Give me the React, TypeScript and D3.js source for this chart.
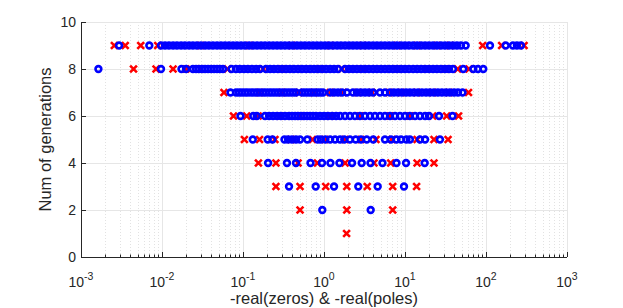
import React, { useEffect, useRef } from "react";
import * as d3 from "d3";

// -real(zeros) / -real(poles) per generation
const zerosG1: number[] = [];
const polesG1 = [1.9];

const zerosG2 = [0.953, 3.77];
const polesG2 = [0.506, 1.91, 7.05];

const zerosG3 = [0.37, 0.79, 1.33, 2.65, 4.6, 9.72];
const polesG3 = [0.255, 0.506, 1.05, 1.91, 3.42, 7.05, 13.9];

const zerosG4 = [0.204, 0.349, 0.451, 0.681, 0.945, 1.2, 1.55, 2.22, 2.92, 3.75, 5.27, 7.85, 10.3, 17.5];
const polesG4 = [0.155, 0.255, 0.478, 0.83, 1.82, 4.14, 6.66, 14.1, 22.8];

const zerosG5 = [
  0.132, 0.202, 0.231, 0.325, 0.36, 0.403, 0.451, 0.506, 0.622, 0.836, 0.918, 1.04,
  1.19, 1.37, 1.58, 1.78, 2.09, 2.46, 2.86, 3.37, 4.06, 5.66, 6.71, 7.85, 8.93,
  10.4, 11.5, 15.3, 17.7, 27.0
];
const polesG5 = [0.104, 0.16, 0.248, 0.392, 0.721, 1.03, 1.82, 2.86, 4.38, 6.91, 14.1, 22.8, 34.0];

const zerosG6 = [
  0.0931, 0.134, 0.148, 0.187, 0.21, 0.235, 0.263, 0.294, 0.33, 0.37, 0.403, 0.439,
  0.478, 0.52, 0.566, 0.617, 0.672, 0.732, 0.797, 0.893, 1.0, 1.12, 1.26, 1.41, 1.58,
  1.82, 2.09, 2.41, 2.78, 3.21, 3.7, 4.26, 4.91, 5.66, 6.53, 7.53, 8.67, 10.0, 11.5,
  13.3, 15.3, 17.7, 19.8, 26.3, 38.6
];
const polesG6 = [0.0763, 0.111, 0.154, 0.287, 0.506, 1.19, 2.78, 6.53, 11.5, 22.0, 32.7, 45.8];

const zerosG7 = [
  0.0701, 0.082, 0.0893, 0.0972, 0.106, 0.115, 0.126, 0.137, 0.149, 0.162, 0.177,
  0.192, 0.21, 0.228, 0.248, 0.27, 0.294, 0.321, 0.349, 0.38, 0.414, 0.451, 0.535,
  0.582, 0.634, 0.691, 0.753, 0.82, 0.893, 0.972, 1.19, 1.33, 1.49, 1.67, 1.92, 2.28,
  2.55, 2.86, 3.21, 3.59, 4.03, 4.91, 5.66, 6.53, 7.31, 8.2, 9.18, 10.3, 11.5, 12.9,
  14.5, 16.2, 18.2, 20.3, 22.8, 25.5, 28.6, 32.1, 35.9, 40.3, 45.1, 51.3
];
const polesG7 = [0.0582, 0.16, 0.3, 0.491, 0.75, 1.19, 1.72, 2.6, 3.9, 6.4, 9.0, 14.0, 22.0, 35.0, 60.8];

const zerosG8 = [
  0.00164, 0.00972, 0.0174, 0.0198, 0.0241, 0.0263, 0.0286, 0.0312, 0.034, 0.037,
  0.0403, 0.0439, 0.0478, 0.052, 0.0566, 0.0721, 0.082, 0.0918, 0.103, 0.115, 0.129,
  0.145, 0.162, 0.192, 0.216, 0.241, 0.27, 0.303, 0.34, 0.38, 0.426, 0.478, 0.535,
  0.6, 0.672, 0.753, 0.843, 0.945, 1.06, 1.19, 1.33, 1.49, 1.82, 2.04, 2.28, 2.55,
  2.86, 3.21, 3.59, 4.03, 4.51, 5.05, 5.66, 6.35, 7.11, 7.96, 8.93, 10.0, 11.2, 12.6,
  14.1, 15.8, 17.7, 19.8, 22.2, 24.8, 27.8, 31.2, 34.9, 39.1, 52.5, 69.7, 79.6, 92.6
];
const polesG8 = [
  0.00445, 0.00844, 0.0137, 0.0198, 0.03, 0.0644, 0.178, 0.3, 0.9, 1.67, 3.0, 8.0,
  18.5, 31.2, 44.7, 61.7
];

const zerosG9 = [
  0.00295, 0.00697, 0.00972, 0.0109, 0.0122, 0.0137, 0.0153, 0.0172, 0.0192, 0.0216,
  0.0241, 0.027, 0.0303, 0.034, 0.038, 0.0426, 0.0478, 0.0535, 0.06, 0.0672, 0.0753,
  0.0843, 0.0945, 0.106, 0.119, 0.133, 0.149, 0.167, 0.187, 0.21, 0.235, 0.263, 0.294,
  0.33, 0.37, 0.414, 0.464, 0.52, 0.582, 0.653, 0.732, 0.82, 0.918, 1.03, 1.15, 1.29,
  1.45, 1.62, 1.82, 2.04, 2.28, 2.55, 2.86, 3.21, 3.59, 4.03, 4.51, 5.05, 5.66, 6.35,
  7.11, 7.96, 8.93, 10.0, 11.2, 12.6, 14.1, 15.8, 17.7, 19.8, 22.2, 24.8, 27.8, 31.2,
  34.9, 39.1, 43.8, 49.1, 56.1, 112, 175, 215, 241, 270
];
const polesG9 = [
  0.00258, 0.00352, 0.00546, 0.00885, 0.03, 0.12, 0.4, 1.2, 3.0, 8.0, 14.1, 25.0,
  36.0, 91, 156, 295
];

const zerosByGen = [zerosG1, zerosG2, zerosG3, zerosG4, zerosG5, zerosG6, zerosG7, zerosG8, zerosG9];
const polesByGen = [polesG1, polesG2, polesG3, polesG4, polesG5, polesG6, polesG7, polesG8, polesG9];

const yTicks = [0, 2, 4, 6, 8, 10];
const xDecades = [-3, -2, -1, 0, 1, 2, 3];

const App = () => {
  const ref = useRef<SVGSVGElement>(null);

  useEffect(() => {
    const width = 623;
    const height = 308;
    const margin = { left: 81, right: 56, top: 22, bottom: 51 };

    const svg = d3.select(ref.current);
    svg.selectAll("*").remove();

    const x = d3.scaleLog().domain([1e-3, 1e3]).range([margin.left, width - margin.right]);
    const y = d3.scaleLinear().domain([0, 10]).range([height - margin.bottom, margin.top]);

    const font = "'Liberation Sans', Arial, sans-serif";
    const axisColor = "#262626";

    // minor x grid (dotted)
    const minor: number[] = [];
    xDecades.slice(0, -1).forEach(k => {
      for (let m = 2; m <= 9; m++) minor.push(m * Math.pow(10, k));
    });
    const grid = svg.append("g");
    grid.selectAll("line.minor")
      .data(minor)
      .enter()
      .append("line")
      .attr("x1", d => Math.round(x(d)) + 0.5)
      .attr("x2", d => Math.round(x(d)) + 0.5)
      .attr("y1", y(0))
      .attr("y2", y(10))
      .attr("stroke", "#e2e2e2")
      .attr("stroke-dasharray", "1,2");

    // major grid
    grid.selectAll("line.mx")
      .data(xDecades)
      .enter()
      .append("line")
      .attr("x1", d => Math.round(x(Math.pow(10, d))) + 0.5)
      .attr("x2", d => Math.round(x(Math.pow(10, d))) + 0.5)
      .attr("y1", y(0))
      .attr("y2", y(10))
      .attr("stroke", "#e6e6e6");
    grid.selectAll("line.my")
      .data(yTicks)
      .enter()
      .append("line")
      .attr("x1", x(1e-3))
      .attr("x2", x(1e3))
      .attr("y1", d => Math.round(y(d)) + 0.5)
      .attr("y2", d => Math.round(y(d)) + 0.5)
      .attr("stroke", "#e6e6e6");

    const poles = polesByGen.flatMap((vals, i) => vals.map(v => ({ v, g: i + 1 })));
    const zeros = zerosByGen.flatMap((vals, i) => vals.map(v => ({ v, g: i + 1 })));

    const s = 3.4;
    svg.append("g")
      .selectAll("path")
      .data(poles)
      .enter()
      .append("path")
      .attr("d", d => {
        const cx = x(d.v);
        const cy = y(d.g);
        return `M${cx - s},${cy - s}L${cx + s},${cy + s}M${cx - s},${cy + s}L${cx + s},${cy - s}`;
      })
      .attr("stroke", "#ff0000")
      .attr("stroke-width", 2.6)
      .attr("fill", "none");

    svg.append("g")
      .selectAll("circle")
      .data(zeros)
      .enter()
      .append("circle")
      .attr("cx", d => x(d.v))
      .attr("cy", d => y(d.g))
      .attr("r", 2.9)
      .attr("stroke", "#0000ff")
      .attr("stroke-width", 2.6)
      .attr("fill", "none");

    // axes
    const ax = svg.append("g").attr("stroke", axisColor).attr("stroke-width", 1);
    ax.append("line")
      .attr("x1", x(1e-3)).attr("x2", x(1e3))
      .attr("y1", y(0) + 0.5).attr("y2", y(0) + 0.5);
    ax.append("line")
      .attr("x1", x(1e-3) + 0.5).attr("x2", x(1e-3) + 0.5)
      .attr("y1", y(0)).attr("y2", y(10));
    ax.selectAll("line.tx")
      .data(xDecades)
      .enter()
      .append("line")
      .attr("x1", d => Math.round(x(Math.pow(10, d))) + 0.5)
      .attr("x2", d => Math.round(x(Math.pow(10, d))) + 0.5)
      .attr("y1", y(0))
      .attr("y2", y(0) - 5);
    ax.selectAll("line.tm")
      .data(minor)
      .enter()
      .append("line")
      .attr("x1", d => Math.round(x(d)) + 0.5)
      .attr("x2", d => Math.round(x(d)) + 0.5)
      .attr("y1", y(0))
      .attr("y2", y(0) - 2.5);
    ax.selectAll("line.ty")
      .data(yTicks)
      .enter()
      .append("line")
      .attr("x1", x(1e-3))
      .attr("x2", x(1e-3) + 5)
      .attr("y1", d => Math.round(y(d)) + 0.5)
      .attr("y2", d => Math.round(y(d)) + 0.5);

    // tick labels
    svg.append("g")
      .selectAll("text")
      .data(yTicks)
      .enter()
      .append("text")
      .attr("x", x(1e-3) - 5)
      .attr("y", d => y(d) + 5)
      .attr("text-anchor", "end")
      .attr("font-family", font)
      .attr("font-size", 14)
      .attr("fill", axisColor)
      .text(d => d);

    const xl = svg.append("g")
      .selectAll("text")
      .data(xDecades)
      .enter()
      .append("text")
      .attr("x", d => x(Math.pow(10, d)))
      .attr("y", 287)
      .attr("text-anchor", "middle")
      .attr("font-family", font)
      .attr("font-size", 14)
      .attr("fill", axisColor);
    xl.append("tspan").text("10");
    xl.append("tspan")
      .attr("dy", -7)
      .attr("font-size", 10.5)
      .text(d => String(d));

    svg.append("text")
      .attr("x", (x(1e-3) + x(1e3)) / 2)
      .attr("y", 304)
      .attr("text-anchor", "middle")
      .attr("font-family", font)
      .attr("font-size", 16.5)
      .attr("fill", axisColor)
      .text("-real(zeros) & -real(poles)");

    svg.append("text")
      .attr("transform", `translate(51,${(y(0) + y(10)) / 2}) rotate(-90)`)
      .attr("text-anchor", "middle")
      .attr("font-family", font)
      .attr("font-size", 16.5)
      .attr("fill", axisColor)
      .text("Num of generations");
  }, []);

  return (
    <svg
      ref={ref}
      width={623}
      height={308}
      style={{ position: "absolute", left: 0, top: 0, background: "#fff" }}
    />
  );
};

export default App;
